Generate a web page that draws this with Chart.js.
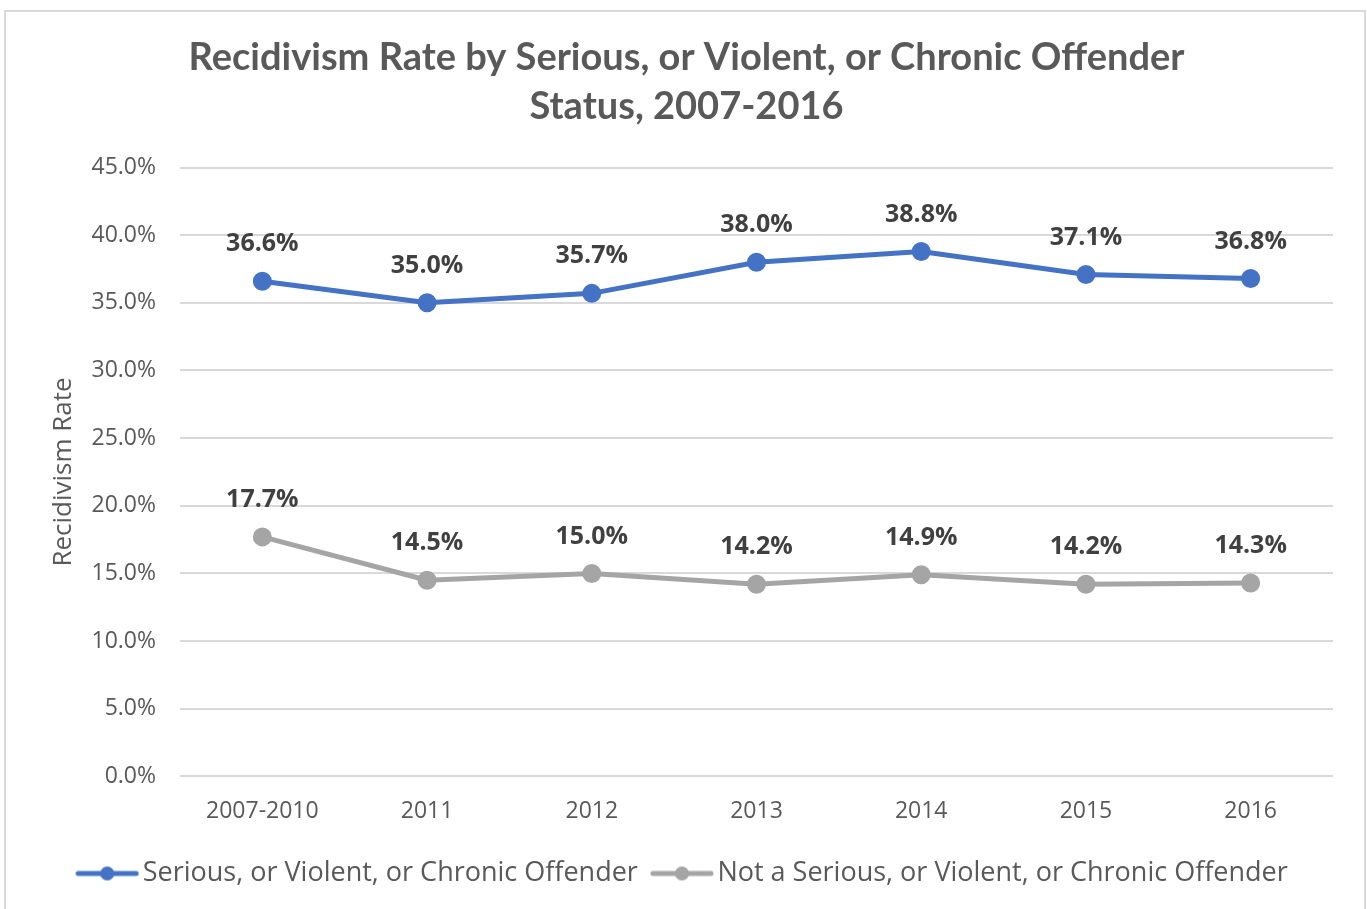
<!DOCTYPE html>
<html>
<head>
<meta charset="utf-8">
<script src="https://cdn.jsdelivr.net/npm/chart.js@4/dist/chart.umd.min.js"></script>
<style>
  html, body { margin: 0; padding: 0; background: #fff; }
  #wrap { position: relative; width: 1367px; height: 909px; }
</style>
</head>
<body>
<div id="wrap"><canvas id="chart" width="1367" height="909"></canvas></div>
<script>
// data
const categories = ['2007-2010', '2011', '2012', '2013', '2014', '2015', '2016'];
const svcOffender = [36.6, 35.0, 35.7, 38.0, 38.8, 37.1, 36.8];
const notSvcOffender = [17.7, 14.5, 15.0, 14.2, 14.9, 14.2, 14.3];
const yTicks = [0, 5, 10, 15, 20, 25, 30, 35, 40, 45];
const seriesNames = [
  'Serious, or Violent, or Chronic Offender',
  'Not a Serious, or Violent, or Chronic Offender'
];

const BLUE = '#4472C4';
const GREY = '#A5A5A5';
const TEXT = '#595959';
const FONT = '"Open Sans", sans-serif';

const legendMarker = (color) => {
  const c = document.createElement('canvas');
  c.width = 64; c.height = 16;
  const ctx = c.getContext('2d');
  ctx.strokeStyle = color;
  ctx.lineWidth = 5;
  ctx.lineCap = 'round';
  ctx.beginPath(); ctx.moveTo(3, 8); ctx.lineTo(61, 8); ctx.stroke();
  ctx.fillStyle = color;
  ctx.beginPath(); ctx.arc(32, 8, 7, 0, Math.PI * 2); ctx.fill();
  return c;
};

const frame = {
  id: 'frame',
  beforeDraw(chart) {
    const { ctx } = chart;
    ctx.save();
    ctx.strokeStyle = '#d9d9d9';
    ctx.lineWidth = 2;
    ctx.strokeRect(5, 11, 1360, 900);
    ctx.restore();
  }
};

const valueLabels = {
  id: 'valueLabels',
  afterDatasetsDraw(chart) {
    const { ctx } = chart;
    ctx.save();
    ctx.font = 'bold 25px ' + FONT;
    ctx.fillStyle = '#404040';
    ctx.textAlign = 'center';
    ctx.textBaseline = 'middle';
    chart.data.datasets.forEach((ds, i) => {
      chart.getDatasetMeta(i).data.forEach((pt, j) => {
        ctx.fillText(ds.data[j].toFixed(1) + '%', pt.x, pt.y - 37);
      });
    });
    ctx.restore();
  }
};

new Chart(document.getElementById('chart'), {
  type: 'line',
  data: {
    labels: categories,
    datasets: [
      {
        label: seriesNames[0],
        data: svcOffender,
        borderColor: BLUE,
        backgroundColor: BLUE,
        borderWidth: 5,
        pointRadius: 7,
        tension: 0
      },
      {
        label: seriesNames[1],
        data: notSvcOffender,
        borderColor: GREY,
        backgroundColor: GREY,
        borderWidth: 5,
        pointRadius: 7,
        tension: 0
      }
    ]
  },
  options: {
    responsive: false,
    animation: false,
    layout: { padding: { left: 40, right: 34, top: 34, bottom: 12 } },
    plugins: {
      title: {
        display: true,
        text: ['Recidivism Rate by Serious, or Violent, or Chronic Offender', 'Status, 2007-2016'],
        color: TEXT,
        font: { family: 'Lato, sans-serif', size: 38, weight: 'bold', lineHeight: 1.27 },
        padding: { top: 0, bottom: 37 }
      },
      legend: {
        position: 'bottom',
        labels: {
          usePointStyle: true,
          pointStyleWidth: 44,
          color: TEXT,
          font: { family: FONT, size: 27 },
          padding: 22,
          generateLabels: (chart) => chart.data.datasets.map((ds, i) => ({
            text: ds.label,
            pointStyle: legendMarker(ds.borderColor),
            fontColor: TEXT,
            datasetIndex: i,
            hidden: false,
            lineWidth: 0
          }))
        }
      },
      tooltip: { enabled: false }
    },
    scales: {
      x: {
        offset: true,
        grid: { display: false },
        border: { display: false },
        ticks: { color: TEXT, font: { family: FONT, size: 23 }, padding: 13 }
      },
      y: {
        min: 0,
        max: 45,
        afterBuildTicks: (scale) => { scale.ticks = yTicks.map((v) => ({ value: v })); },
        afterFit: (scale) => { scale.width = 140; },
        grid: { color: '#d9d9d9', lineWidth: 2, drawTicks: false },
        border: { display: false },
        title: {
          display: true,
          text: 'Recidivism Rate',
          color: TEXT,
          font: { family: FONT, size: 26 },
          padding: { top: 8, bottom: 0 }
        },
        ticks: {
          color: TEXT,
          font: { family: FONT, size: 23 },
          padding: 24,
          callback: (v) => Number(v).toFixed(1) + '%'
        }
      }
    }
  },
  plugins: [frame, valueLabels]
});
</script>
</body>
</html>
